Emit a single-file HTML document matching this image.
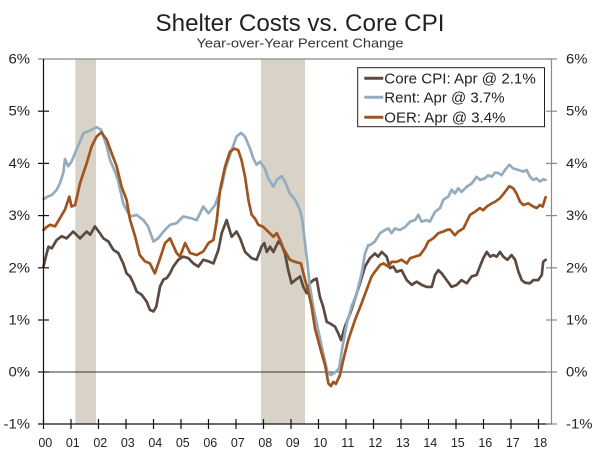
<!DOCTYPE html>
<html>
<head>
<meta charset="utf-8">
<style>
html,body{margin:0;padding:0;background:#fff;}
svg{display:block;}
text{font-family:"Liberation Sans",Arial,sans-serif;}
</style>
</head>
<body>
<svg width="600" height="457" viewBox="0 0 600 457" xmlns="http://www.w3.org/2000/svg">
<rect x="0" y="0" width="600" height="457" fill="#fff"/>
<!-- title -->
<text x="300" y="31" font-size="24" text-anchor="middle" fill="#222" textLength="289" lengthAdjust="spacingAndGlyphs">Shelter Costs vs. Core CPI</text>
<text x="300" y="47.5" font-size="13" text-anchor="middle" fill="#333" textLength="207" lengthAdjust="spacingAndGlyphs">Year-over-Year Percent Change</text>

<!-- recession bands -->
<rect x="75.3" y="59" width="20.7" height="365" fill="#d9d3c7"/>
<rect x="261" y="59" width="44" height="365" fill="#d9d3c7"/>

<!-- frame -->
<line x1="38" y1="59" x2="551.5" y2="59" stroke="#8a8a8a" stroke-width="1.2"/>
<line x1="551.5" y1="59" x2="551.5" y2="424" stroke="#8a8a8a" stroke-width="1.2"/>
<line x1="43.5" y1="372" x2="551.5" y2="372" stroke="#333" stroke-width="1"/>

<!-- series -->
<g transform="translate(43.5,372) scale(27.5,-52.2)" fill="none" stroke-linejoin="round" stroke-linecap="round">
<polyline vector-effect="non-scaling-stroke" stroke="#5a4a40" stroke-width="2.7" points="0,2.02 0.08,2.2 0.18,2.4 0.3,2.37 0.48,2.53 0.66,2.6 0.84,2.56 1.08,2.69 1.33,2.56 1.57,2.69 1.7,2.63 1.87,2.79 2.05,2.66 2.18,2.56 2.36,2.5 2.54,2.34 2.72,2.28 2.9,2.08 3.02,1.89 3.15,1.83 3.27,1.7 3.39,1.54 3.57,1.48 3.75,1.35 3.87,1.19 4.0,1.16 4.1,1.25 4.24,1.64 4.36,1.77 4.48,1.8 4.6,1.89 4.72,2.02 4.9,2.15 5.08,2.21 5.27,2.18 5.45,2.08 5.63,2.02 5.81,2.15 6.0,2.12 6.18,2.08 6.36,2.34 6.48,2.66 6.66,2.91 6.84,2.59 7.02,2.69 7.15,2.56 7.33,2.3 7.45,2.24 7.57,2.18 7.75,2.15 7.93,2.4 8.03,2.47 8.12,2.3 8.24,2.4 8.36,2.3 8.54,2.5 8.66,2.43 8.78,2.27 8.9,1.95 9.02,1.7 9.15,1.76 9.33,1.83 9.45,1.63 9.57,1.51 9.69,1.7 9.81,1.76 9.93,1.79 10.05,1.44 10.17,1.25 10.3,0.96 10.42,0.93 10.6,0.87 10.72,0.74 10.82,0.61 10.96,0.87 11.15,1.12 11.33,1.41 11.51,1.7 11.69,2.02 11.87,2.18 12.05,2.27 12.17,2.21 12.3,2.3 12.48,2.21 12.6,1.99 12.72,2.02 12.84,1.92 13.02,1.95 13.21,1.76 13.39,1.67 13.57,1.73 13.75,1.67 13.93,1.63 14.12,1.63 14.24,1.86 14.36,1.95 14.48,1.89 14.66,1.76 14.84,1.63 15.03,1.67 15.2,1.76 15.39,1.7 15.57,1.83 15.75,1.86 15.87,2.02 15.99,2.18 16.12,2.3 16.24,2.21 16.36,2.24 16.48,2.21 16.6,2.3 16.72,2.21 16.87,2.15 17.02,2.24 17.15,2.15 17.27,1.92 17.39,1.76 17.51,1.71 17.69,1.7 17.81,1.76 17.99,1.76 18.12,1.86 18.17,2.11 18.26,2.15"/>
<polyline vector-effect="non-scaling-stroke" stroke="#94acbf" stroke-width="2.7" points="0,3.31 0.15,3.36 0.3,3.39 0.48,3.49 0.6,3.62 0.72,3.81 0.78,4.08 0.9,3.94 1.02,4.03 1.2,4.26 1.45,4.57 1.7,4.63 1.93,4.69 2.1,4.64 2.3,4.32 2.42,4.06 2.6,3.84 2.72,3.65 2.9,3.23 3.02,3.1 3.15,2.98 3.39,3.01 3.63,2.91 3.8,2.79 4.0,2.5 4.17,2.56 4.36,2.69 4.6,2.82 4.84,2.85 5.08,2.98 5.33,2.95 5.57,2.91 5.81,3.17 6.0,3.04 6.24,3.2 6.48,3.55 6.6,3.87 6.84,4.25 7.02,4.51 7.18,4.58 7.33,4.51 7.51,4.28 7.63,4.09 7.75,3.97 7.87,4.03 8.05,3.9 8.17,3.71 8.36,3.55 8.48,3.68 8.66,3.75 8.78,3.65 8.96,3.42 9.15,3.3 9.33,3.1 9.41,2.91 9.48,2.6 9.57,2.2 9.69,1.63 9.81,1.25 9.99,0.8 10.17,0.36 10.33,-0.01 10.45,-0.06 10.6,-0.01 10.75,0.07 10.87,0.48 11.03,0.93 11.2,1.25 11.39,1.51 11.57,1.89 11.69,2.27 11.81,2.43 11.87,2.43 12.05,2.5 12.24,2.66 12.42,2.72 12.54,2.75 12.66,2.66 12.78,2.75 12.96,2.72 13.15,2.78 13.33,2.88 13.51,2.91 13.63,3.01 13.75,2.88 13.93,2.91 14.05,2.88 14.24,3.07 14.42,3.14 14.54,3.3 14.72,3.36 14.84,3.49 14.96,3.42 15.08,3.52 15.2,3.45 15.39,3.55 15.57,3.61 15.75,3.74 15.87,3.68 16.05,3.71 16.17,3.77 16.3,3.74 16.42,3.82 16.54,3.81 16.66,3.77 16.78,3.87 16.94,3.97 17.08,3.9 17.27,3.87 17.45,3.84 17.57,3.87 17.69,3.74 17.81,3.68 17.93,3.71 18.05,3.65 18.17,3.69 18.26,3.68"/>
<polyline vector-effect="non-scaling-stroke" stroke="#a0541e" stroke-width="2.7" points="0,2.72 0.12,2.78 0.24,2.82 0.42,2.79 0.6,2.95 0.78,3.11 0.94,3.36 1.02,3.17 1.15,3.2 1.33,3.62 1.57,4.0 1.75,4.32 1.93,4.51 2.1,4.59 2.3,4.45 2.48,4.19 2.66,3.94 2.84,3.55 3.02,3.3 3.15,2.91 3.33,2.6 3.5,2.24 3.69,2.12 3.87,2.08 4.05,1.89 4.24,2.18 4.42,2.47 4.6,2.56 4.84,2.28 4.96,2.21 5.15,2.47 5.33,2.28 5.57,2.24 5.81,2.31 6.0,2.47 6.18,2.53 6.3,2.9 6.42,3.49 6.6,3.93 6.78,4.22 6.94,4.28 7.08,4.25 7.2,4.06 7.33,3.74 7.45,3.3 7.57,3.01 7.69,2.94 7.81,2.82 7.99,2.78 8.17,2.69 8.36,2.59 8.48,2.66 8.6,2.53 8.72,2.37 8.96,2.15 9.15,2.11 9.36,2.08 9.45,1.89 9.63,1.54 9.75,1.25 9.87,0.84 10.05,0.48 10.24,0.13 10.36,-0.22 10.45,-0.27 10.54,-0.19 10.63,-0.23 10.78,-0.06 10.9,0.23 11.08,0.61 11.33,1.0 11.57,1.32 11.81,1.66 11.93,1.83 12.05,1.92 12.24,2.05 12.36,2.08 12.54,2.02 12.66,2.11 12.84,2.11 13.02,2.15 13.21,2.08 13.33,2.18 13.51,2.21 13.69,2.24 13.87,2.37 13.99,2.5 14.17,2.56 14.36,2.66 14.54,2.69 14.66,2.72 14.78,2.73 14.96,2.62 15.08,2.69 15.27,2.75 15.39,2.88 15.51,3.01 15.69,3.07 15.87,3.14 15.99,3.1 16.12,3.17 16.3,3.23 16.42,3.26 16.6,3.33 16.78,3.45 16.94,3.56 17.08,3.52 17.2,3.42 17.33,3.26 17.45,3.2 17.63,3.23 17.81,3.17 17.93,3.14 18.05,3.2 18.15,3.17 18.26,3.35"/>
</g>

<!-- axes -->
<line x1="43.5" y1="59" x2="43.5" y2="424" stroke="#111" stroke-width="1.2"/>
<line x1="38" y1="424" x2="551.5" y2="424" stroke="#111" stroke-width="1.2"/>
<g stroke="#111" stroke-width="1.2">
<line x1="38" y1="111.2" x2="49" y2="111.2"/>
<line x1="38" y1="163.4" x2="49" y2="163.4"/>
<line x1="38" y1="215.6" x2="49" y2="215.6"/>
<line x1="38" y1="267.8" x2="49" y2="267.8"/>
<line x1="38" y1="320" x2="49" y2="320"/>
<line x1="38" y1="372" x2="49" y2="372"/>
</g>
<g stroke="#8a8a8a" stroke-width="1.2">
<line x1="546" y1="59" x2="557" y2="59"/>
<line x1="546" y1="111.2" x2="557" y2="111.2"/>
<line x1="546" y1="163.4" x2="557" y2="163.4"/>
<line x1="546" y1="215.6" x2="557" y2="215.6"/>
<line x1="546" y1="267.8" x2="557" y2="267.8"/>
<line x1="546" y1="320" x2="557" y2="320"/>
<line x1="546" y1="372" x2="557" y2="372"/>
<line x1="546" y1="424" x2="557" y2="424"/>
</g>
<g stroke="#111" stroke-width="1.2">
<line x1="43.5" y1="419" x2="43.5" y2="429"/>
<line x1="71" y1="419" x2="71" y2="429"/>
<line x1="98.5" y1="419" x2="98.5" y2="429"/>
<line x1="126" y1="419" x2="126" y2="429"/>
<line x1="153.5" y1="419" x2="153.5" y2="429"/>
<line x1="181" y1="419" x2="181" y2="429"/>
<line x1="208.5" y1="419" x2="208.5" y2="429"/>
<line x1="236" y1="419" x2="236" y2="429"/>
<line x1="263.5" y1="419" x2="263.5" y2="429"/>
<line x1="291" y1="419" x2="291" y2="429"/>
<line x1="318.5" y1="419" x2="318.5" y2="429"/>
<line x1="346" y1="419" x2="346" y2="429"/>
<line x1="373.5" y1="419" x2="373.5" y2="429"/>
<line x1="401" y1="419" x2="401" y2="429"/>
<line x1="428.5" y1="419" x2="428.5" y2="429"/>
<line x1="456" y1="419" x2="456" y2="429"/>
<line x1="483.5" y1="419" x2="483.5" y2="429"/>
<line x1="511" y1="419" x2="511" y2="429"/>
<line x1="538.5" y1="419" x2="538.5" y2="429"/>
</g>

<!-- y labels -->
<g font-size="14" fill="#222" text-anchor="end">
<text x="30" y="63.5" textLength="21.5" lengthAdjust="spacingAndGlyphs">6%</text>
<text x="30" y="115.7" textLength="21.5" lengthAdjust="spacingAndGlyphs">5%</text>
<text x="30" y="167.9" textLength="21.5" lengthAdjust="spacingAndGlyphs">4%</text>
<text x="30" y="220.1" textLength="21.5" lengthAdjust="spacingAndGlyphs">3%</text>
<text x="30" y="272.3" textLength="21.5" lengthAdjust="spacingAndGlyphs">2%</text>
<text x="30" y="324.5" textLength="21.5" lengthAdjust="spacingAndGlyphs">1%</text>
<text x="30" y="376.5" textLength="21.5" lengthAdjust="spacingAndGlyphs">0%</text>
<text x="30" y="428.5" textLength="26.5" lengthAdjust="spacingAndGlyphs">-1%</text>
</g>
<g font-size="14" fill="#222">
<text x="566" y="63.5" textLength="21.5" lengthAdjust="spacingAndGlyphs">6%</text>
<text x="566" y="115.7" textLength="21.5" lengthAdjust="spacingAndGlyphs">5%</text>
<text x="566" y="167.9" textLength="21.5" lengthAdjust="spacingAndGlyphs">4%</text>
<text x="566" y="220.1" textLength="21.5" lengthAdjust="spacingAndGlyphs">3%</text>
<text x="566" y="272.3" textLength="21.5" lengthAdjust="spacingAndGlyphs">2%</text>
<text x="566" y="324.5" textLength="21.5" lengthAdjust="spacingAndGlyphs">1%</text>
<text x="566" y="376.5" textLength="21.5" lengthAdjust="spacingAndGlyphs">0%</text>
<text x="566" y="428.5" textLength="26.5" lengthAdjust="spacingAndGlyphs">-1%</text>
</g>

<!-- x labels -->
<g font-size="12.5" fill="#222" text-anchor="middle">
<text x="45.3" y="447">00</text>
<text x="72.8" y="447">01</text>
<text x="100.3" y="447">02</text>
<text x="127.8" y="447">03</text>
<text x="155.3" y="447">04</text>
<text x="182.8" y="447">05</text>
<text x="210.3" y="447">06</text>
<text x="237.8" y="447">07</text>
<text x="265.3" y="447">08</text>
<text x="292.8" y="447">09</text>
<text x="320.3" y="447">10</text>
<text x="347.8" y="447">11</text>
<text x="375.3" y="447">12</text>
<text x="402.8" y="447">13</text>
<text x="430.3" y="447">14</text>
<text x="457.8" y="447">15</text>
<text x="485.3" y="447">16</text>
<text x="512.8" y="447">17</text>
<text x="540.3" y="447">18</text>
</g>

<!-- legend -->
<rect x="357.7" y="67.7" width="186.8" height="59" fill="#fff" stroke="#222" stroke-width="1"/>
<line x1="364.3" y1="78.3" x2="383.3" y2="78.3" stroke="#5a4a40" stroke-width="3"/>
<line x1="364.3" y1="97.3" x2="383.3" y2="97.3" stroke="#94acbf" stroke-width="3"/>
<line x1="364.3" y1="117.3" x2="383.3" y2="117.3" stroke="#a0541e" stroke-width="3"/>
<g font-size="15" fill="#222">
<text x="384.3" y="83.5" textLength="151.5" lengthAdjust="spacingAndGlyphs">Core CPI: Apr @ 2.1%</text>
<text x="384.3" y="102.5">Rent: Apr @ 3.7%</text>
<text x="384.3" y="122.3">OER: Apr @ 3.4%</text>
</g>
</svg>
</body>
</html>
